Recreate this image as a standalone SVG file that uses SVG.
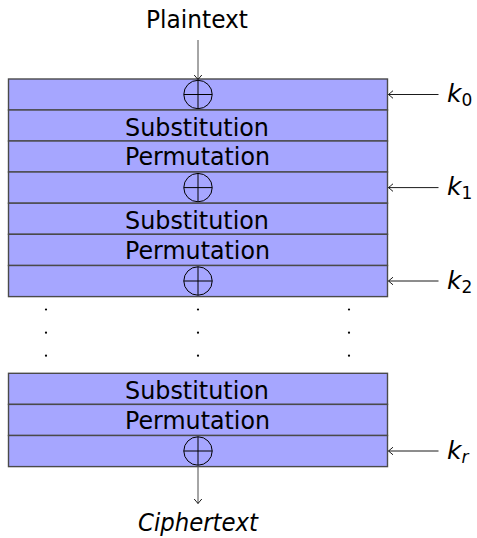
<svg xmlns="http://www.w3.org/2000/svg" width="477" height="538" viewBox="0 0 477 538">
<style>
.row{fill:#a6a6ff;stroke:#4a4a4a;stroke-width:1.4}
.lbl{font-family:"DejaVu Sans",sans-serif;font-size:25.5px;fill:#000;text-anchor:middle}
.it{font-family:"DejaVu Sans",sans-serif;font-style:italic;fill:#000}
.xor{fill:none;stroke:#000;stroke-width:1}
.conn{stroke:#4d4d4d;stroke-width:1;fill:none}
.key{stroke:#000;stroke-width:0.9;fill:none}
.dot{fill:#000}
</style>
<defs>
<marker id="to" viewBox="-6 -5 8 10" markerWidth="8" markerHeight="10" refX="0" refY="0" orient="auto" markerUnits="userSpaceOnUse">
<path d="M-4.5,-3.8 Q-1,-0.8 0,0 Q-1,0.8 -4.5,3.8" fill="none" stroke="#000" stroke-width="0.9"/>
</marker>
<g id="xorsym"><circle r="14.2" class="xor"/><line x1="-14.2" y1="0" x2="14.2" y2="0" class="xor"/><line x1="0" y1="-14.2" x2="0" y2="14.2" class="xor"/></g>
</defs>
<text class="lbl" x="197" y="28" textLength="102" lengthAdjust="spacingAndGlyphs">Plaintext</text>
<g id="r1"><rect class="row" x="8.5" y="79" width="379" height="31"/><use href="#xorsym" x="198" y="94.5"/></g>
<g id="r2"><rect class="row" x="8.5" y="110" width="379" height="31"/><text class="lbl" x="197" y="136" textLength="144" lengthAdjust="spacingAndGlyphs">Substitution</text></g>
<g id="r3"><rect class="row" x="8.5" y="141" width="379" height="31"/><text class="lbl" x="197.5" y="165" textLength="145" lengthAdjust="spacingAndGlyphs">Permutation</text></g>
<g id="r4"><rect class="row" x="8.5" y="172" width="379" height="31.2"/><use href="#xorsym" x="198" y="187.6"/></g>
<g id="r5"><rect class="row" x="8.5" y="203.2" width="379" height="31.1"/><text class="lbl" x="197" y="229.2" textLength="144" lengthAdjust="spacingAndGlyphs">Substitution</text></g>
<g id="r6"><rect class="row" x="8.5" y="234.3" width="379" height="31.2"/><text class="lbl" x="197.5" y="258.5" textLength="145" lengthAdjust="spacingAndGlyphs">Permutation</text></g>
<g id="r7"><rect class="row" x="8.5" y="265.5" width="379" height="31.1"/><use href="#xorsym" x="198" y="281"/></g>
<g id="dots">
<circle class="dot" cx="46" cy="309.5" r="1.1"/><circle class="dot" cx="198" cy="309.5" r="1.1"/><circle class="dot" cx="349" cy="309.5" r="1.1"/>
<circle class="dot" cx="46" cy="332.7" r="1.1"/><circle class="dot" cx="198" cy="332.7" r="1.1"/><circle class="dot" cx="349" cy="332.7" r="1.1"/>
<circle class="dot" cx="46" cy="355.7" r="1.1"/><circle class="dot" cx="198" cy="355.7" r="1.1"/><circle class="dot" cx="349" cy="355.7" r="1.1"/>
</g>
<g id="r8"><rect class="row" x="8.5" y="373.3" width="379" height="31.1"/><text class="lbl" x="197" y="399.3" textLength="144" lengthAdjust="spacingAndGlyphs">Substitution</text></g>
<g id="r9"><rect class="row" x="8.5" y="404.4" width="379" height="31.1"/><text class="lbl" x="197.5" y="428.6" textLength="145" lengthAdjust="spacingAndGlyphs">Permutation</text></g>
<g id="r10"><rect class="row" x="8.5" y="435.5" width="379" height="31.1"/><use href="#xorsym" x="198" y="451"/></g>
<g id="keys">
<text class="it" x="447" y="102" font-size="25">k<tspan font-size="17" font-style="normal" dy="4">0</tspan></text>
<text class="it" x="447" y="195" font-size="25">k<tspan font-size="17" font-style="normal" dy="4">1</tspan></text>
<text class="it" x="447" y="288.5" font-size="25">k<tspan font-size="17" font-style="normal" dy="4">2</tspan></text>
<text class="it" x="447" y="458.5" font-size="25">k<tspan font-size="17" dy="4">r</tspan></text>
</g>
<text class="it" x="198" y="531" font-size="25.5" text-anchor="middle" textLength="120" lengthAdjust="spacingAndGlyphs">Ciphertext</text>
<g id="connectors">
<line class="conn" x1="198" y1="40" x2="198" y2="79.5" marker-end="url(#to)"/>
<line class="conn" x1="198" y1="465.2" x2="198" y2="503.5" marker-end="url(#to)"/>
<line class="key" x1="438.5" y1="94.5" x2="388.5" y2="94.5" marker-end="url(#to)"/>
<line class="key" x1="438.5" y1="187.6" x2="388.5" y2="187.6" marker-end="url(#to)"/>
<line class="key" x1="438.5" y1="281" x2="388.5" y2="281" marker-end="url(#to)"/>
<line class="key" x1="438.5" y1="451" x2="388.5" y2="451" marker-end="url(#to)"/>
</g>
</svg>
